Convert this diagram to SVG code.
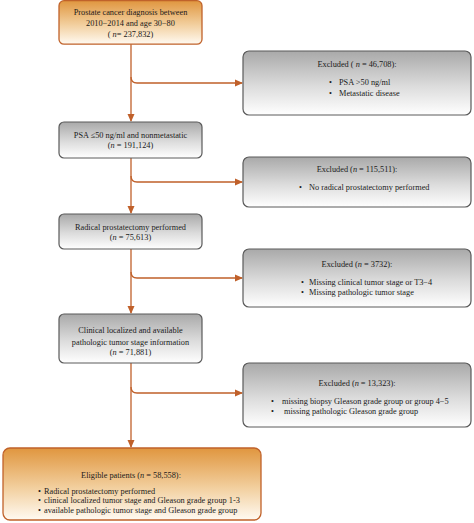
<svg xmlns="http://www.w3.org/2000/svg" width="474" height="523" viewBox="0 0 474 523">
<defs>
<linearGradient id="gOr" x1="0" y1="0" x2="0" y2="1">
<stop offset="0" stop-color="#e0963f"/>
<stop offset="0.55" stop-color="#f2cf9e"/>
<stop offset="1" stop-color="#fffaf2"/>
</linearGradient>
<linearGradient id="gGr" x1="0" y1="0" x2="0" y2="1">
<stop offset="0" stop-color="#a9a9a9"/>
<stop offset="0.55" stop-color="#dcdcdc"/>
<stop offset="1" stop-color="#ffffff"/>
</linearGradient>
<marker id="ah" markerWidth="8" markerHeight="8" refX="7" refY="4" orient="auto" markerUnits="userSpaceOnUse">
<path d="M0,0.5 L8,4 L0,7.5 Z" fill="#c0602a"/>
</marker>
</defs>
<style>
.or{fill:url(#gOr);stroke:#c0622a;stroke-width:1.3}
.gr{fill:url(#gGr);stroke:#5a5a5a;stroke-width:1.2}
text{font-family:"Liberation Serif","Times New Roman",serif;font-size:8.3px;fill:#1a1a1a}
.c{text-anchor:middle}
.ln{fill:none;stroke:#c0602a;stroke-width:1.3;marker-end:url(#ah)}
</style>
<g id="connectors">
<path class="ln" d="M131,44 V121"/>
<path class="ln" d="M131,77 Q131,83 137,83 H242"/>
<path class="ln" d="M131,158 V213"/>
<path class="ln" d="M131,176 Q131,182 137,182 H242"/>
<path class="ln" d="M131,249 V313"/>
<path class="ln" d="M131,272 Q131,278 137,278 H242"/>
<path class="ln" d="M131,363 V447"/>
<path class="ln" d="M131,387 Q131,393 137,393 H242"/>
</g>
<g id="n1">
<rect class="or" x="59" y="0.7" width="143" height="43.5" rx="5"/>
<text class="c" x="130.5" y="15">Prostate cancer diagnosis between</text>
<text class="c" x="130.5" y="26">2010−2014 and age 30−80</text>
<text class="c" x="130.5" y="37">( <tspan font-style="italic">n</tspan>= 237,832)</text>
</g>
<g id="e1">
<rect class="gr" x="243" y="51" width="228" height="64" rx="6"/>
<text class="c" x="357" y="67">Excluded ( <tspan font-style="italic">n</tspan> = 46,708):</text>
<text x="329" y="85">•</text><text x="339" y="85">PSA &gt;50 ng/ml</text>
<text x="329" y="96">•</text><text x="339" y="96">Metastatic disease</text>
</g>
<g id="n2">
<rect class="gr" x="59" y="122" width="143" height="36" rx="5"/>
<text class="c" x="130.5" y="138">PSA ≤50 ng/ml and nonmetastatic</text>
<text class="c" x="130.5" y="148">(<tspan font-style="italic">n</tspan> = 191,124)</text>
</g>
<g id="e2">
<rect class="gr" x="243" y="157" width="228" height="50" rx="6"/>
<text class="c" x="357" y="172">Excluded (<tspan font-style="italic">n</tspan> = 115,511):</text>
<text x="299" y="190">•</text><text x="309" y="190">No radical prostatectomy performed</text>
</g>
<g id="n3">
<rect class="gr" x="59" y="214" width="143" height="35" rx="5"/>
<text class="c" x="130.5" y="230">Radical prostatectomy performed</text>
<text class="c" x="130.5" y="240">(<tspan font-style="italic">n</tspan> =  75,613)</text>
</g>
<g id="e3">
<rect class="gr" x="243" y="249" width="228" height="58" rx="6"/>
<text class="c" x="357" y="267">Excluded (<tspan font-style="italic">n</tspan> =  3732):</text>
<text x="301" y="285">•</text><text x="309" y="285">Missing clinical tumor stage or T3−4</text>
<text x="301" y="295">•</text><text x="309" y="295">Missing pathologic tumor stage</text>
</g>
<g id="n4">
<rect class="gr" x="59" y="314" width="143" height="49" rx="5"/>
<text class="c" x="130.5" y="333">Clinical localized and available</text>
<text class="c" x="130.5" y="345">pathologic tumor stage information</text>
<text class="c" x="130.5" y="355">(<tspan font-style="italic">n</tspan> = 71,881)</text>
</g>
<g id="e4">
<rect class="gr" x="243" y="363" width="228" height="64" rx="6"/>
<text class="c" x="357" y="386">Excluded (<tspan font-style="italic">n</tspan> =  13,323):</text>
<text x="271" y="404">•</text><text x="282" y="404">missing biopsy Gleason  grade  group or  group 4−5</text>
<text x="271" y="414">•</text><text x="284" y="414">missing pathologic Gleason  grade  group</text>
</g>
<g id="n5">
<rect class="or" x="3" y="448" width="258" height="72" rx="7"/>
<text class="c" x="131" y="478">Eligible patients (<tspan font-style="italic">n</tspan> = 58,558):</text>
<text x="38" y="494">•</text><text x="44" y="494">Radical prostatectomy performed</text>
<text x="38" y="503">•</text><text x="44" y="503">clinical localized tumor stage and Gleason  grade  group 1-3</text>
<text x="38" y="513">•</text><text x="44" y="513">available pathologic tumor stage and Gleason  grade  group</text>
</g>
</svg>
